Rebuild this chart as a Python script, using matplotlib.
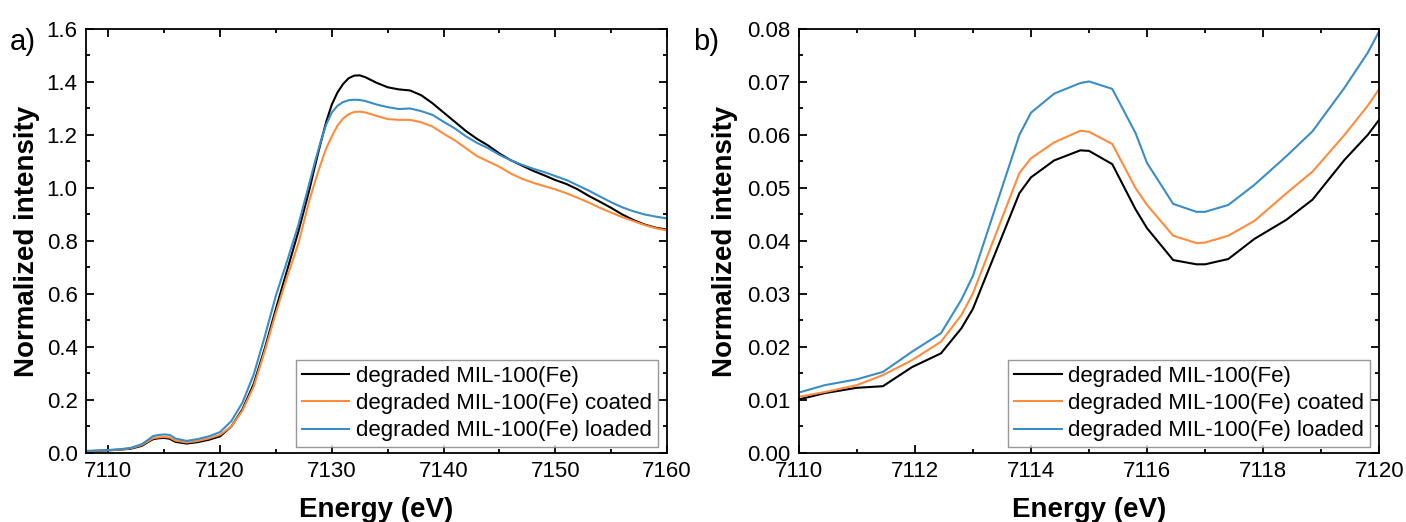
import numpy as np
import matplotlib
matplotlib.use("Agg")
import matplotlib.pyplot as plt
from matplotlib.ticker import MultipleLocator, FormatStrFormatter

plt.rcParams['font.family'] = ['Liberation Sans', 'DejaVu Sans']

labels = ["degraded MIL-100(Fe)", "degraded MIL-100(Fe) coated", "degraded MIL-100(Fe) loaded"]
colors = ["#000000", "#FF8C3C", "#3A8DC6"]

# panel a: full XANES edge
energy_a = [7108, 7109, 7110, 7111, 7112, 7113, 7113.5, 7114, 7114.5, 7115, 7115.5, 7116, 7117,
            7118, 7119, 7120, 7121, 7122, 7123, 7124, 7125, 7126, 7127,
            7128, 7128.5, 7129, 7129.5, 7130, 7130.5, 7131, 7131.5, 7132, 7132.5, 7133, 7134,
            7135, 7136, 7137, 7138, 7139, 7140, 7141, 7142, 7143, 7144, 7145, 7146, 7147,
            7148, 7149, 7150, 7151, 7152, 7153, 7154, 7155, 7156, 7157, 7158, 7159, 7160]
black_a = [0.007, 0.008, 0.0101, 0.0124, 0.016, 0.027, 0.040, 0.052, 0.0555, 0.057, 0.0535, 0.042, 0.0356,
           0.041, 0.050, 0.063, 0.10, 0.165, 0.26, 0.395, 0.545, 0.69, 0.835,
           0.995, 1.085, 1.17, 1.25, 1.315, 1.36, 1.392, 1.414, 1.424, 1.425, 1.418, 1.397,
           1.38, 1.372, 1.368, 1.35, 1.32, 1.285, 1.25, 1.215, 1.185, 1.16, 1.13, 1.105, 1.085,
           1.065, 1.048, 1.03, 1.015, 0.995, 0.97, 0.948, 0.925, 0.90, 0.879, 0.862, 0.85, 0.843]
coated_a = [0.007, 0.009, 0.0106, 0.0128, 0.0178, 0.0301, 0.043, 0.0556, 0.059, 0.0606, 0.058, 0.0468, 0.0397,
            0.0455, 0.055, 0.0687, 0.10, 0.16, 0.25, 0.385, 0.53, 0.665, 0.79,
            0.955, 1.025, 1.09, 1.15, 1.195, 1.235, 1.262, 1.278, 1.287, 1.288, 1.285, 1.272,
            1.26, 1.257, 1.257, 1.248, 1.232, 1.205, 1.18, 1.15, 1.12, 1.10, 1.08, 1.055, 1.035,
            1.02, 1.007, 0.995, 0.98, 0.963, 0.945, 0.925, 0.907, 0.89, 0.875, 0.86, 0.848, 0.84]
loaded_a = [0.008, 0.009, 0.0114, 0.014, 0.0193, 0.0334, 0.048, 0.064, 0.068, 0.070, 0.068, 0.0547, 0.0455,
            0.0525, 0.063, 0.079, 0.12, 0.19, 0.295, 0.44, 0.595, 0.725, 0.86,
            1.02, 1.10, 1.175, 1.24, 1.285, 1.31, 1.324, 1.331, 1.333, 1.332, 1.328, 1.315,
            1.305, 1.298, 1.30, 1.29, 1.276, 1.25, 1.225, 1.195, 1.17, 1.15, 1.125, 1.105, 1.088,
            1.073, 1.06, 1.045, 1.03, 1.01, 0.99, 0.968, 0.946, 0.927, 0.912, 0.90, 0.892, 0.885]

# panel b: pre-edge zoom
energy_b = [7110.0, 7110.45, 7111.0, 7111.45, 7111.95, 7112.45, 7112.8, 7113.0, 7113.8, 7114.0,
            7114.4, 7114.85, 7115.0, 7115.4, 7115.8, 7116.0, 7116.45, 7116.85, 7117.0, 7117.4,
            7117.85, 7118.4, 7118.85, 7119.4, 7119.8, 7120.0]
black_b = [0.0101, 0.0113, 0.0123, 0.0126, 0.0162, 0.0188, 0.0235, 0.0272, 0.049, 0.052,
           0.0552, 0.0571, 0.0570, 0.0545, 0.046, 0.0424, 0.0364, 0.0356, 0.0356, 0.0366,
           0.0404, 0.044, 0.0478, 0.0553, 0.060, 0.0629]
coated_b = [0.0106, 0.0115, 0.0128, 0.0147, 0.0175, 0.021, 0.026, 0.0301, 0.0528, 0.0556,
            0.0586, 0.0608, 0.0606, 0.0583, 0.050, 0.0468, 0.041, 0.0396, 0.0397, 0.041,
            0.0438, 0.049, 0.0531, 0.060, 0.0655, 0.0687]
loaded_b = [0.0114, 0.0128, 0.0139, 0.0153, 0.0191, 0.0226, 0.0289, 0.0334, 0.060, 0.0642,
            0.0678, 0.0698, 0.0701, 0.0687, 0.0604, 0.0547, 0.047, 0.0455, 0.0455, 0.0468,
            0.0506, 0.056, 0.0607, 0.0689, 0.0755, 0.0796]


def style_axes(ax):
    for s in ax.spines.values():
        s.set_linewidth(1.3)
    ax.tick_params(which='both', direction='in', top=True, right=True, width=1.3,
                   labelsize=16)
    ax.tick_params(which='major', length=6)
    ax.tick_params(which='minor', length=3)
    ax.tick_params(axis='y', pad=6)
    ax.tick_params(axis='x', pad=6)


def add_legend(ax):
    leg = ax.legend(loc='lower right', bbox_to_anchor=(0.984, 0.014), borderaxespad=0,
                    fontsize=16, frameon=True, fancybox=False, labelspacing=0.28,
                    borderpad=0.25, handlelength=2.15, handletextpad=0.3)
    leg.get_frame().set_edgecolor('#7f7f7f')
    leg.get_frame().set_linewidth(1.0)


fig = plt.figure(figsize=(14.06, 5.22), dpi=100)
ax1 = fig.add_axes([0.0612, 0.1322, 0.4132, 0.8123])
ax2 = fig.add_axes([0.5681, 0.1322, 0.4129, 0.8123])

for y, c, lab in zip([black_a, coated_a, loaded_a], colors, labels):
    ax1.plot(energy_a, y, color=c, lw=1.5, label=lab)
ax1.set_xlim(7108, 7160)
ax1.set_ylim(0, 1.6)
ax1.xaxis.set_major_locator(MultipleLocator(10))
ax1.xaxis.set_minor_locator(MultipleLocator(5))
ax1.yaxis.set_major_locator(MultipleLocator(0.2))
ax1.yaxis.set_minor_locator(MultipleLocator(0.1))
ax1.yaxis.set_major_formatter(FormatStrFormatter('%.1f'))
style_axes(ax1)
add_legend(ax1)

for y, c, lab in zip([black_b, coated_b, loaded_b], colors, labels):
    ax2.plot(energy_b, y, color=c, lw=1.5, label=lab)
ax2.set_xlim(7110, 7120)
ax2.set_ylim(0, 0.08)
ax2.xaxis.set_major_locator(MultipleLocator(2))
ax2.xaxis.set_minor_locator(MultipleLocator(1))
ax2.yaxis.set_major_locator(MultipleLocator(0.01))
ax2.yaxis.set_minor_locator(MultipleLocator(0.005))
ax2.yaxis.set_major_formatter(FormatStrFormatter('%.2f'))
style_axes(ax2)
add_legend(ax2)

for ax, ylx in [(ax1, -0.08), (ax2, -0.105)]:
    ax.set_xlabel("Energy (eV)", fontsize=20, fontweight='bold')
    ax.set_ylabel("Normalized intensity", fontsize=20, fontweight='bold')
    ax.xaxis.set_label_coords(0.5, -0.103)
    ax.yaxis.set_label_coords(ylx, 0.5)

fig.text(0.007, 0.904, "a)", fontsize=21, va='baseline')
fig.text(0.493, 0.904, "b)", fontsize=21, va='baseline')

fig.savefig("out.png", dpi=100)
